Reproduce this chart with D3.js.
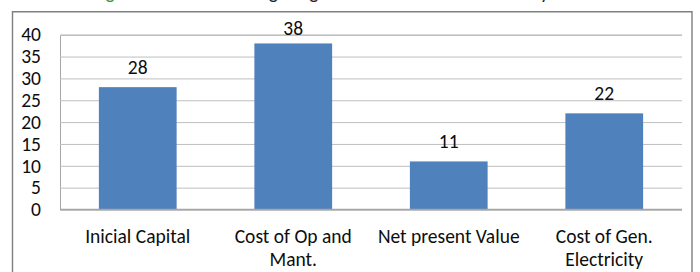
<!DOCTYPE html>
<html>
<head>
<meta charset="utf-8">
<script src="https://cdn.jsdelivr.net/npm/d3@7"></script>
<style>
  html, body { margin: 0; padding: 0; background: #fff; }
  svg { display: block; }
  text { font-family: Carlito, Calibri, Lato, "Open Sans", sans-serif; }
</style>
</head>
<body>
<svg id="chart" width="700" height="272"></svg>
<script>
// ---- data ----
const categories = ["Inicial Capital", "Cost of Op and Mant.", "Net present Value", "Cost of Gen. Electricity"];
const values = [28, 38, 11, 22];
const yTicks = [0, 5, 10, 15, 20, 25, 30, 35, 40];
const yDomain = [0, 40];
const captionFigure = "Figure 5.";
const captionWords = ["Weighting", "of the criteria in the study"];

// ---- layout ----
const W = 700, H = 272;
const frame = { x: 12.5, y: 11.7, right: 692 };
const plot = { left: 60, right: 682, top: 34.7, bottom: 209.5 };
const fontSize = 19.5;
const barColor = "#4f81bd";
const gridColor = "#bfbfbf";
const textColor = "#0d0d0d";

const svg = d3.select("#chart");

// clipped caption (only descenders visible, as in the reference)
svg.append("text").attr("x", 92).attr("y", -1).attr("fill", "#2e9a45")
  .attr("font-size", fontSize).text(captionFigure);
svg.append("text").attr("x", 238).attr("y", -1).attr("fill", "#222")
  .attr("font-size", fontSize).text(captionWords[0]);
svg.append("text").attr("x", 549).attr("y", -1).attr("fill", "#222")
  .attr("text-anchor", "end").attr("font-size", fontSize).text(captionWords[1]);

// outer frame
svg.append("path")
  .attr("d", `M${frame.x},${H + 2} V${frame.y} H${frame.right} V${H + 2}`)
  .attr("fill", "none").attr("stroke", "#7f7f7f").attr("stroke-width", 1.4);

const x = d3.scaleBand().domain(categories)
  .range([plot.left, plot.right]).paddingInner(0.5).paddingOuter(0.25);
const y = d3.scaleLinear().domain(yDomain).range([plot.bottom, plot.top]);

// y axis with gridlines
const yAxis = svg.append("g").attr("transform", `translate(${plot.left},0)`)
  .call(d3.axisLeft(y).tickValues(yTicks).tickSize(-(plot.right - plot.left)).tickPadding(19).tickFormat(d3.format("d")));
yAxis.select(".domain").attr("stroke", "#a6a6a6").attr("stroke-width", 1);
yAxis.selectAll(".tick line").attr("stroke", gridColor).attr("stroke-width", 1);
yAxis.selectAll(".tick text").attr("font-size", fontSize).attr("fill", textColor)
  .attr("font-family", "Carlito, Calibri, Lato, sans-serif");

// bars
svg.append("g").selectAll("rect").data(values).join("rect")
  .attr("x", (d, i) => x(categories[i]))
  .attr("y", d => y(d))
  .attr("width", x.bandwidth())
  .attr("height", d => y(0) - y(d))
  .attr("fill", barColor);

// baseline
svg.append("line").attr("x1", plot.left).attr("x2", plot.right)
  .attr("y1", y(0)).attr("y2", y(0)).attr("stroke", "#a6a6a6").attr("stroke-width", 1.5);

// value labels
svg.append("g").selectAll("text").data(values).join("text")
  .attr("x", (d, i) => x(categories[i]) + x.bandwidth() / 2)
  .attr("y", d => Math.max(y(d) - 13, frame.y + 23))
  .attr("text-anchor", "middle").attr("font-size", fontSize).attr("fill", textColor)
  .text(d => d);

// x axis labels
const xAxis = svg.append("g").attr("transform", `translate(0,${plot.bottom})`)
  .call(d3.axisBottom(x).tickSize(0).tickPadding(0));
xAxis.select(".domain").remove();
xAxis.selectAll(".tick text")
  .attr("font-size", fontSize).attr("fill", textColor)
  .attr("font-family", "Carlito, Calibri, Lato, sans-serif")
  .attr("dy", null).attr("y", 33.2)
  .each(function(d) {
    const t = d3.select(this);
    const words = d.split(" ");
    t.text(null);
    let line = [];
    let tspan = t.append("tspan").attr("x", 0).attr("y", 33.2);
    let lineNo = 0;
    words.forEach(w => {
      line.push(w);
      tspan.text(line.join(" "));
      if (tspan.node().getComputedTextLength() > 150 && line.length > 1) {
        line.pop();
        tspan.text(line.join(" "));
        line = [w];
        lineNo++;
        tspan = t.append("tspan").attr("x", 0).attr("y", 33.2 + lineNo * 23).text(w);
      }
    });
  });
</script>
</body>
</html>
